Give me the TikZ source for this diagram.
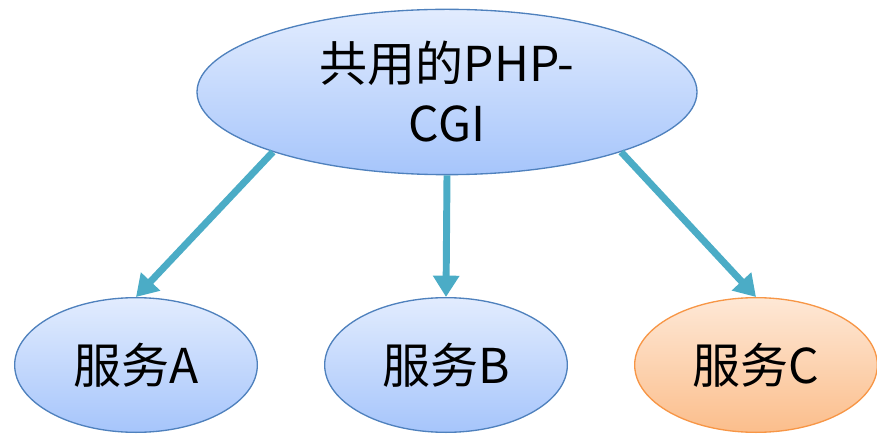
\documentclass[tikz,border=0pt]{standalone}
\usepackage{fontspec}
\newfontfamily\cjk{Noto Sans CJK SC}
\usetikzlibrary{shapes.geometric,arrows.meta}

\definecolor{bubbletop}{RGB}{226,236,254}
\definecolor{bubblebot}{RGB}{166,197,251}
\definecolor{bubbleline}{RGB}{79,129,189}
\definecolor{peachtop}{RGB}{254,232,214}
\definecolor{peachbot}{RGB}{251,190,140}
\definecolor{peachline}{RGB}{247,150,70}
\definecolor{linkteal}{RGB}{75,172,198}

\tikzset{every picture/.style={line width=0.75pt}}
\tikzset{
  bubble/.style={ellipse, inner sep=0pt, align=center, line width=1pt,
    font=\cjk\fontsize{36}{45}\selectfont},
  bluebubble/.style={bubble, draw=bubbleline, top color=bubbletop, bottom color=bubblebot},
  peachbubble/.style={bubble, draw=peachline, top color=peachtop, bottom color=peachbot},
  link/.style={draw=linkteal, line width=5.2pt, -{Triangle[length=16pt,width=19pt]}},
}

\begin{document}
\begin{tikzpicture}[x=0.75pt,y=0.75pt,yscale=-1,xscale=1]
    \useasboundingbox (0,0) rectangle (877,434);

    %Ellipse: shared php-cgi
    \node [bluebubble, minimum width=375pt, minimum height=124pt] (cgi) at (447,92) {共用的PHP-\\CGI};
    %Ellipse: services
    \node [bluebubble, minimum width=182pt, minimum height=101pt] (svcA) at (136,365) {服务A};
    \node [bluebubble, minimum width=182pt, minimum height=101pt] (svcB) at (446,365) {服务B};
    \node [peachbubble, minimum width=182pt, minimum height=101pt] (svcC) at (756,365) {服务C};

    %Straight Lines
    \draw [link] (cgi.199) -- (svcA.north);
    \draw [link] (cgi.south) -- (svcB.north);
    \draw [link] (cgi.-19) -- (svcC.north);

\end{tikzpicture}
\end{document}
